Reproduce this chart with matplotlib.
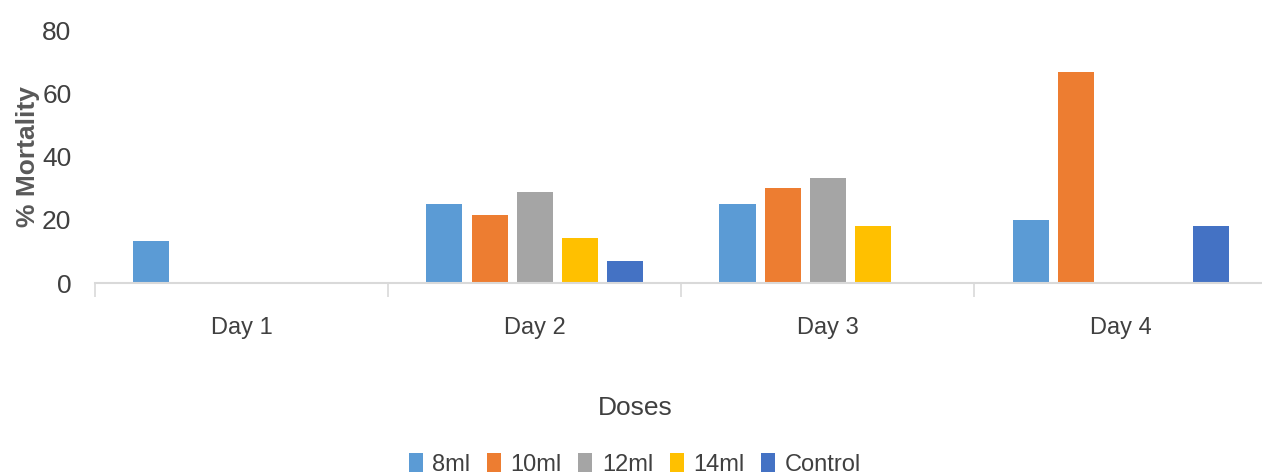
import numpy as np
import matplotlib
matplotlib.use('Agg')
from matplotlib import pyplot as plt

plt.rcParams['font.family'] = ['Liberation Sans', 'DejaVu Sans']

days = ['Day 1', 'Day 2', 'Day 3', 'Day 4']
series = ['8ml', '10ml', '12ml', '14ml', 'Control']
colors = ['#5B9BD5', '#ED7D31', '#A5A5A5', '#FFC000', '#4472C4']

dose_8ml = [13.3, 25.0, 25.0, 20.0]
dose_10ml = [0, 21.7, 30.0, 66.7]
dose_12ml = [0, 29.0, 33.3, 0]
dose_14ml = [0, 14.3, 18.0, 0]
control = [0, 7.0, 0, 18.0]

values = [dose_8ml, dose_10ml, dose_12ml, dose_14ml, control]

TEXT = '#404040'

fig = plt.figure(figsize=(12.62, 4.76), dpi=100)
ax = fig.add_axes([0.0753, 0.405, 0.929, 0.5315])

x = np.arange(len(days))
w = 0.123
step = 0.154
for i, (name, vals, c) in enumerate(zip(series, values, colors)):
    ax.bar(x + (i - 2) * step, vals, width=w, color=c, label=name)

ax.set_xlim(-0.5, len(days) - 0.5)
ax.set_ylim(0, 80)
ax.set_yticks([0, 20, 40, 60, 80])
ax.set_yticklabels(['0', '20', '40', '60', '80'], fontsize=19, color=TEXT)
ax.tick_params(axis='y', length=0, pad=17)

# category labels at centres, tick marks at the boundaries
ax.set_xticks(x)
ax.set_xticklabels(days, fontsize=17, color=TEXT)
ax.tick_params(axis='x', which='major', length=0, pad=24)
ax.set_xticks(np.arange(len(days) + 1) - 0.5, minor=True)
ax.tick_params(axis='x', which='minor', length=10, color='#D9D9D9', width=1.2)

for s in ['top', 'right', 'left']:
    ax.spines[s].set_visible(False)
ax.spines['bottom'].set_color('#D9D9D9')
ax.spines['bottom'].set_linewidth(1.5)

fig.text(0.022, 0.672, '% Mortality', rotation=90, ha='center', va='center',
         fontsize=19, fontweight='bold', color='#595959')
fig.text(0.503, 0.143, 'Doses', ha='center', va='center',
         fontsize=19, color=TEXT)

leg = fig.legend(loc='center', bbox_to_anchor=(0.503, 0.025), ncol=5,
                 frameon=False, handlelength=0.6, handleheight=0.9,
                 handletextpad=0.4, columnspacing=0.7,
                 prop={'size': 17})
for t in leg.get_texts():
    t.set_color(TEXT)

fig.savefig('out.png', dpi=100)
